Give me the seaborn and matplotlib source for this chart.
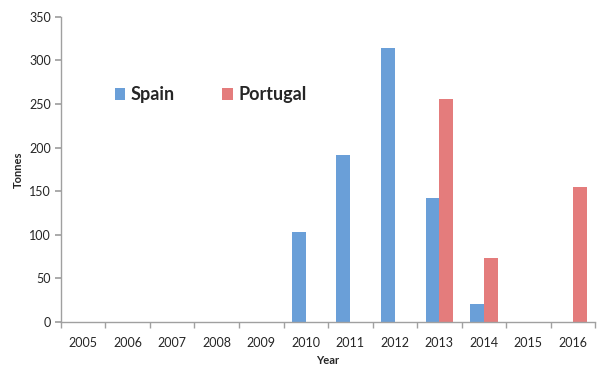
import numpy as np
import pandas as pd
import matplotlib
matplotlib.use("Agg")
import matplotlib.pyplot as plt
import seaborn as sns

# Data
years = [str(y) for y in range(2005, 2017)]
spain = [0, 0, 0, 0, 0, 103, 191, 314, 142, 20, 0, 0]
portugal = [0, 0, 0, 0, 0, 0, 0, 0, 256, 73, 0, 155]

df = pd.DataFrame({
    "Year": years * 2,
    "Tonnes": spain + portugal,
    "Country": ["Spain"] * len(years) + ["Portugal"] * len(years),
})

sns.set_theme(style="white")
plt.rcParams["font.family"] = ["Lato", "DejaVu Sans"]

fig = plt.figure(figsize=(6.03, 3.67), dpi=100)
ax = fig.add_axes([0.101, 0.123, 0.886, 0.831])

palette = {"Spain": "#6a9fd8", "Portugal": "#e47c7c"}
sns.barplot(data=df, x="Year", y="Tonnes", hue="Country", palette=palette,
            width=0.62, ax=ax, saturation=1, linewidth=0)

ax.set_ylim(0, 350)
ax.set_xlim(-0.5, len(years) - 0.5)
ax.set_yticks(np.arange(0, 351, 50))
ax.set_xlabel("Year", fontsize=8, fontweight="bold", labelpad=4)
ax.set_ylabel("Tonnes", fontsize=8, fontweight="bold", labelpad=4)

# Excel-like ticks between categories
ax.set_xticks(np.arange(-0.5, len(years), 1.0), minor=True)
ax.tick_params(axis="x", which="major", length=0, labelsize=9, pad=11)
ax.tick_params(axis="x", which="minor", length=4, color="#a0a0a0", direction="out")
ax.tick_params(axis="y", length=4, color="#a0a0a0", direction="out", labelsize=9, pad=3)
ax.xaxis.set_tick_params(which="minor", bottom=True)
ax.yaxis.set_tick_params(left=True)

for s in ["top", "right"]:
    ax.spines[s].set_visible(False)
for s in ["left", "bottom"]:
    ax.spines[s].set_color("#a0a0a0")
    ax.spines[s].set_linewidth(1.0)

leg = ax.legend(loc="center left", bbox_to_anchor=(0.07, 0.745), ncol=2, frameon=False,
                prop={"weight": "bold", "size": 13}, handlelength=0.6, handleheight=0.6,
                columnspacing=2.6, handletextpad=0.3)

fig.savefig("out.png", dpi=100)
